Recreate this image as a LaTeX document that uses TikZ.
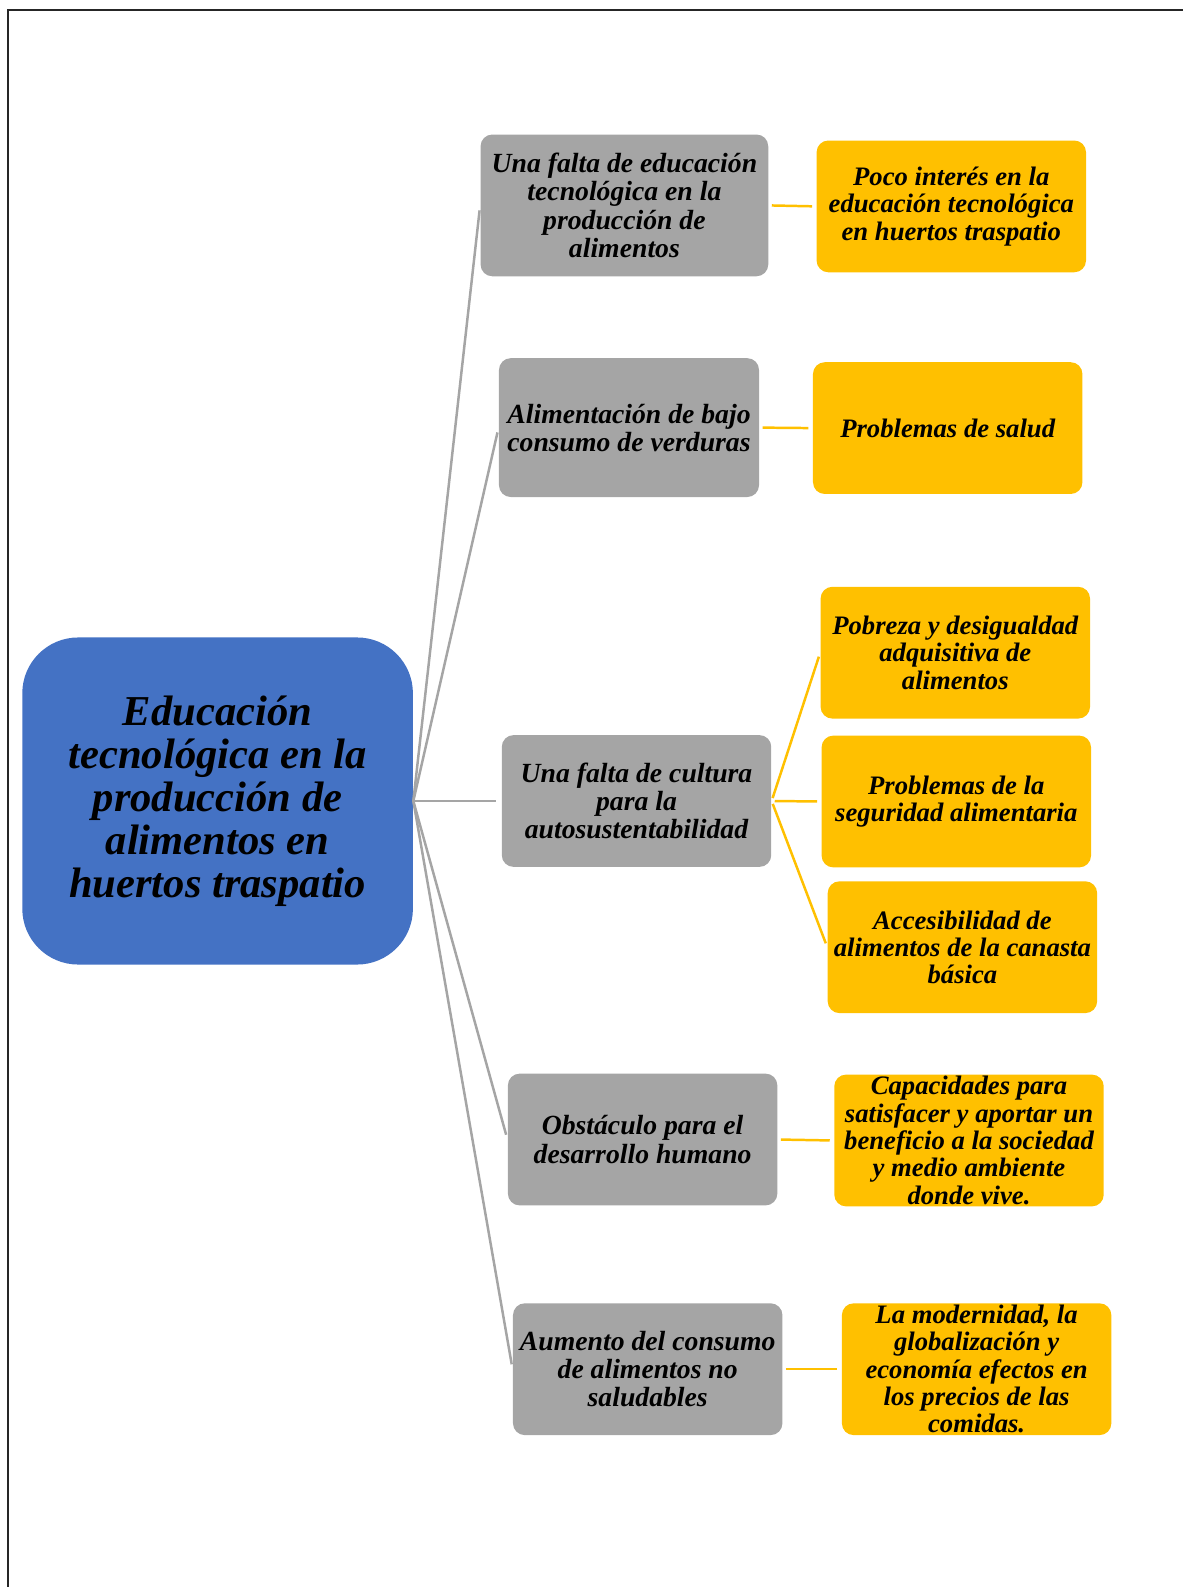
\documentclass[tikz,border=0pt]{standalone}
\usepackage{fontspec}
\setmainfont{Liberation Serif}
\usepackage{xcolor}
\usepackage{tikz}
\usetikzlibrary{positioning}

\definecolor{rootblue}{HTML}{4472C4}
\definecolor{boxgray}{HTML}{A5A5A5}
\definecolor{boxgold}{HTML}{FFC000}

\begin{document}
\begin{tikzpicture}[
    x=0.017cm, y=-0.017cm,
    root/.style={rectangle, fill=rootblue, rounded corners=0.95cm, minimum width=6.64cm, minimum height=5.56cm, align=center, inner sep=0pt, font=\fontsize{20.6}{20.8}\selectfont\bfseries\itshape},
    cause/.style={rectangle, fill=boxgray, rounded corners=0.2cm, minimum width=4.58cm, minimum height=2.24cm, align=center, inner sep=0pt, font=\fontsize{13.4}{13.6}\selectfont\bfseries\itshape},
    effect/.style={rectangle, fill=boxgold, rounded corners=0.2cm, minimum width=4.58cm, minimum height=2.24cm, align=center, inner sep=0pt, font=\fontsize{12.9}{13.2}\selectfont\bfseries\itshape},
    link/.style={draw=boxgray, line width=1.2pt, shorten >=2.4pt},
    ylink/.style={draw=boxgold, line width=1.2pt, shorten <=1.5pt, shorten >=2pt}
]
\useasboundingbox (0,0) rectangle (1182,1587);

% frame
\draw[line width=1.3pt, black!85] (8,1600) -- (8,10) -- (1200,10);

% 1. Central topic
\node[root] (root) at (217.6, 801) {\raisebox{-0.1em}{}Educación\\tecnológica en la\\producción de\\alimentos en\\huertos traspatio};

% 2. Causes (gray)
\node[cause, minimum width=4.89cm, minimum height=2.41cm] (falta_edu) at (624.4, 205.4) {Una falta de educación\\tecnológica en la\\producción de\\alimentos};
\node[cause, minimum width=4.42cm, minimum height=2.36cm] (bajo_consumo) at (629, 427.6) {Alimentación de bajo\\consumo de verduras};
\node[cause] (falta_cultura) at (636.5, 801) {Una falta de cultura\\para la\\autosustentabilidad};
\node[cause] (obstaculo) at (642.6, 1139.5) {Obstáculo para el\\desarrollo humano};
\node[cause] (aumento) at (647.7, 1369.2) {Aumento del consumo\\de alimentos no\\saludables};

% 3. Effects (gold)
\node[effect] (poco_interes) at (951.3, 206.4) {Poco interés en la\\educación tecnológica\\en huertos traspatio};
\node[effect] (salud) at (947.7, 428.1) {Problemas de salud};
\node[effect] (pobreza) at (955.3, 652.7) {Pobreza y desigualdad\\adquisitiva de\\alimentos};
\node[effect] (seguridad) at (956.3, 801.5) {Problemas de la\\seguridad alimentaria};
\node[effect] (accesibilidad) at (962.4, 947.2) {Accesibilidad de\\alimentos de la canasta\\básica};
\node[effect] (capacidades) at (969, 1140.5) {Capacidades para\\satisfacer y aportar un\\beneficio a la sociedad\\y medio ambiente\\donde vive.};
\node[effect] (modernidad) at (976.6, 1369.2) {La modernidad, la\\globalización y\\economía efectos en\\los precios de las\\comidas.};

% Connectors
\foreach \c in {falta_edu, bajo_consumo, falta_cultura, obstaculo, aumento}
    \draw[link] (root.east) -- (\c.west);

\draw[ylink] (falta_edu.east) -- (poco_interes.west);
\draw[ylink] (bajo_consumo.east) -- (salud.west);
\draw[ylink] (falta_cultura.east) -- (pobreza.west);
\draw[ylink] (falta_cultura.east) -- (seguridad.west);
\draw[ylink] (falta_cultura.east) -- (accesibilidad.west);
\draw[ylink] (obstaculo.east) -- (capacidades.west);
\draw[ylink] (aumento.east) -- (modernidad.west);

\end{tikzpicture}
\end{document}
